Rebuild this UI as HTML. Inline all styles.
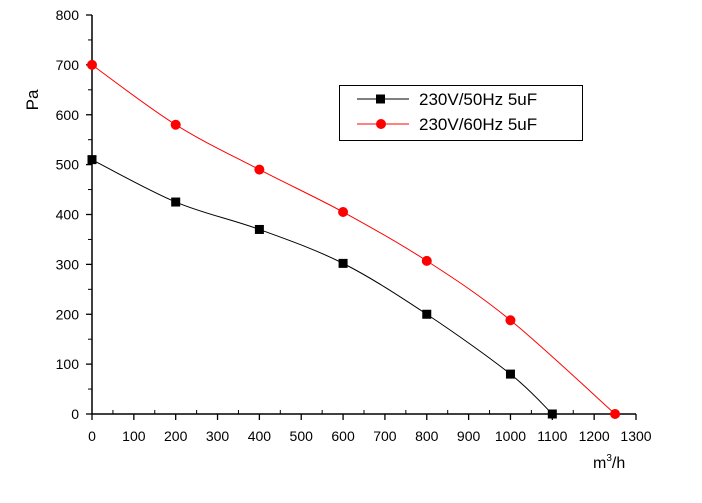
<!DOCTYPE html>
<html><head><meta charset="utf-8"><style>
body{margin:0;background:#fff;}
svg text{font-family:"Liberation Sans",Arial,sans-serif;}
</style></head><body>
<svg id="c" width="702" height="498" xmlns="http://www.w3.org/2000/svg"></svg>
<script>
const xTicks=[0,100,200,300,400,500,600,700,800,900,1000,1100,1200,1300];
const yTicks=[0,100,200,300,400,500,600,700,800];
const flow50=[0,200,400,600,800,1000,1100];
const pres50=[510,425,370,302,200,80,0];
const flow60=[0,200,400,600,800,1000,1250];
const pres60=[700,580,490,405,307,188,0];
const NS="http://www.w3.org/2000/svg";
const svg=document.getElementById('c');
const X=v=>92+v*0.41846;
const Y=v=>414-v*0.49875;
function mk(t,a,p){const e=document.createElementNS(NS,t);for(const k in a)e.setAttribute(k,a[k]);(p||svg).appendChild(e);return e;}
// axes
let ax=mk('line',{x1:92,y1:Y(800),x2:92,y2:414,stroke:'#000','stroke-width':1.5});


ax=mk('line',{x1:92,y1:414,x2:X(1300),y2:414,stroke:'#000','stroke-width':1.5});


xTicks.forEach((v,i)=>{
  mk('line',{x1:X(v),y1:414,x2:X(v),y2:420,stroke:'#000','stroke-width':1.3});
  if(i<xTicks.length-1){const m=X(v+50);mk('line',{x1:m,y1:414,x2:m,y2:410,stroke:'#000','stroke-width':1});}
  const t=mk('text',{x:X(v),y:441,'text-anchor':'middle','font-size':14});t.textContent=v;
  
  
});
yTicks.forEach((v,i)=>{
  mk('line',{x1:86,y1:Y(v),x2:92,y2:Y(v),stroke:'#000','stroke-width':1.3});
  if(i<yTicks.length-1){const m=Y(v+50);mk('line',{x1:92,y1:m,x2:88,y2:m,stroke:'#000','stroke-width':1});}
  const t=mk('text',{x:79,y:Y(v)+5,'text-anchor':'end','font-size':14});t.textContent=v;
  
  
});
let t=mk('text',{x:0,y:0,'font-size':17,transform:'translate(38,100) rotate(-90)','text-anchor':'middle'});t.textContent='Pa';


t=mk('text',{x:593,y:468,'font-size':16});t.innerHTML='m<tspan font-size="10" dy="-7">3</tspan><tspan dy="7">/h</tspan>';


function path(xs,ys){
  const p=xs.map((v,i)=>[X(v),Y(ys[i])]);
  let d='M'+p[0][0]+','+p[0][1];
  for(let i=0;i<p.length-1;i++){
    const p0=p[i-1]||p[i],p1=p[i],p2=p[i+1],p3=p[i+2]||p[i+1];
    const c1=[p1[0]+(p2[0]-p0[0])/6,p1[1]+(p2[1]-p0[1])/6];
    const c2=[p2[0]-(p3[0]-p1[0])/6,p2[1]-(p3[1]-p1[1])/6];
    d+=`C${c1[0]},${c1[1]} ${c2[0]},${c2[1]} ${p2[0]},${p2[1]}`;
  }
  return d;
}
let l=mk('path',{d:path(flow50,pres50),fill:'none',stroke:'#000','stroke-width':1});


l=mk('path',{d:path(flow60,pres60),fill:'none',stroke:'#f00','stroke-width':1});


flow50.forEach((v,i)=>{const r=mk('rect',{x:X(v)-4.5,y:Y(pres50[i])-4.5,width:9,height:9,fill:'#000'});
  
  });
flow60.forEach((v,i)=>{const c=mk('circle',{cx:X(v),cy:Y(pres60[i]),r:5,fill:'#f00'});
  
  });
// legend
const g=mk('g',{});


mk('rect',{x:339.5,y:85.5,width:243,height:55,fill:'#fff',stroke:'#000','stroke-width':1},g);
mk('line',{x1:357,y1:99,x2:409,y2:99,stroke:'#000'},g);
mk('rect',{x:376,y:94.5,width:9,height:9,fill:'#000'},g);
mk('line',{x1:357,y1:124,x2:409,y2:124,stroke:'#f00'},g);
mk('circle',{cx:381,cy:124,r:5,fill:'#f00'},g);
t=mk('text',{x:419,y:105,'font-size':17},g);t.textContent='230V/50Hz 5uF';


t=mk('text',{x:419,y:130,'font-size':17},g);t.textContent='230V/60Hz 5uF';


</script>
</body></html>
